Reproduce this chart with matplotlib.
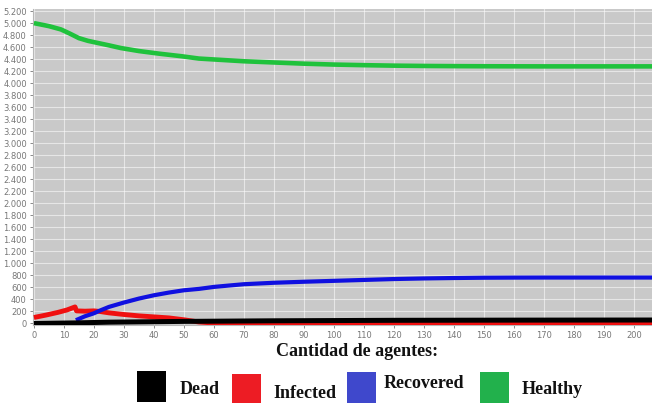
import matplotlib
matplotlib.use("Agg")
import matplotlib.pyplot as plt
from matplotlib.patches import Rectangle
from matplotlib.ticker import FuncFormatter, MultipleLocator

# Simulation time steps and agent counts per state
t_healthy = [0, 5, 9, 12, 15, 18, 22, 25, 29, 35, 42, 49, 55, 60, 70, 80, 90, 100,
             110, 120, 130, 140, 150, 160, 170, 180, 190, 200, 206]
healthy = [5000, 4950, 4895, 4825, 4750, 4705, 4662, 4630, 4585, 4535, 4490, 4450,
           4410, 4395, 4365, 4345, 4325, 4310, 4300, 4292, 4287, 4284, 4282, 4281,
           4280, 4280, 4280, 4280, 4280]

t_infected = [0, 4, 8, 11, 13.7, 14.2, 17, 20, 22, 25, 30, 35, 40, 45, 50, 55, 60,
              80, 120, 206]
infected = [100, 140, 185, 225, 276, 210, 205, 210, 200, 177, 150, 127, 110, 93,
            62, 25, 8, 3, 1, 0]

t_recovered = [14, 17, 20, 22, 25, 30, 35, 40, 45, 50, 55, 60, 65, 70, 80, 90, 100,
               110, 120, 130, 140, 150, 160, 170, 180, 190, 200, 206]
recovered = [55, 120, 170, 215, 276, 349, 415, 470, 515, 553, 576, 609, 632, 654,
             678, 695, 710, 725, 740, 750, 757, 762, 764, 765, 765, 765, 765, 765]

t_dead = [0, 14, 25, 50, 80, 120, 160, 206]
dead = [0, 10, 22, 35, 45, 53, 56, 58]

legend_labels = ["Dead", "Infected", "Recovered", "Healthy"]
legend_colors = ["#000000", "#ed1c24", "#3f48cc", "#22b14c"]
legend_title = "Cantidad de agentes:"

W, H = 652, 403
fig = plt.figure(figsize=(W / 100, H / 100), dpi=100)
fig.patch.set_facecolor("white")

ax = fig.add_axes([33 / W, 1 - 325 / H, (W - 33) / W, (325 - 9) / H])
ax.set_facecolor("#c9c9c9")

lw = 3.0
ax.plot(t_healthy, healthy, color="#1fc23c", lw=lw + 0.3, solid_capstyle="butt", zorder=3)
ax.plot(t_infected, infected, color="#f01010", lw=lw + 0.5, solid_capstyle="butt", zorder=3)
ax.plot(t_recovered, recovered, color="#1010e0", lw=lw, solid_capstyle="butt", zorder=4)
ax.plot(t_dead, dead, color="#000000", lw=lw + 0.6, solid_capstyle="butt", zorder=5)

ax.set_xlim(-0.3, 206)
ax.set_ylim(-25, 5235)
ax.xaxis.set_major_locator(MultipleLocator(10))
ax.yaxis.set_major_locator(MultipleLocator(200))
ax.yaxis.set_major_formatter(FuncFormatter(lambda v, p: f"{int(v):,}".replace(",", ".")))
ax.grid(True, color="white", lw=0.8, alpha=0.55, zorder=1)
ax.set_axisbelow(True)
ax.tick_params(axis="both", labelsize=6, colors="#777777", length=2.5, width=0.6, pad=2)
for s in ["top", "right"]:
    ax.spines[s].set_visible(False)
for s in ["left", "bottom"]:
    ax.spines[s].set_color("#b8b8b8")
    ax.spines[s].set_linewidth(0.8)


def fx(px):
    return px / W


def fy(py):
    return 1 - py / H


serif = "Liberation Serif"
fig.text(fx(357), fy(352), legend_title, ha="center", va="center",
         fontsize=13, fontweight="bold", family=serif, color="#111111")

squares = [(137, 371), (232, 374), (347, 372), (480, 372)]
text_pos = [(200, 390), (305, 394), (424, 384), (552, 389)]
for (sx, sy), (tx, ty), lab, col in zip(squares, text_pos, legend_labels, legend_colors):
    fig.patches.append(Rectangle((fx(sx), fy(sy + 31)), 29 / W, 31 / H,
                                 transform=fig.transFigure, facecolor=col,
                                 edgecolor="none"))
    fig.text(fx(tx), fy(ty), lab, ha="center", va="center", fontsize=13,
             fontweight="bold", family=serif, color="#111111")

fig.savefig("out.png", dpi=100)
